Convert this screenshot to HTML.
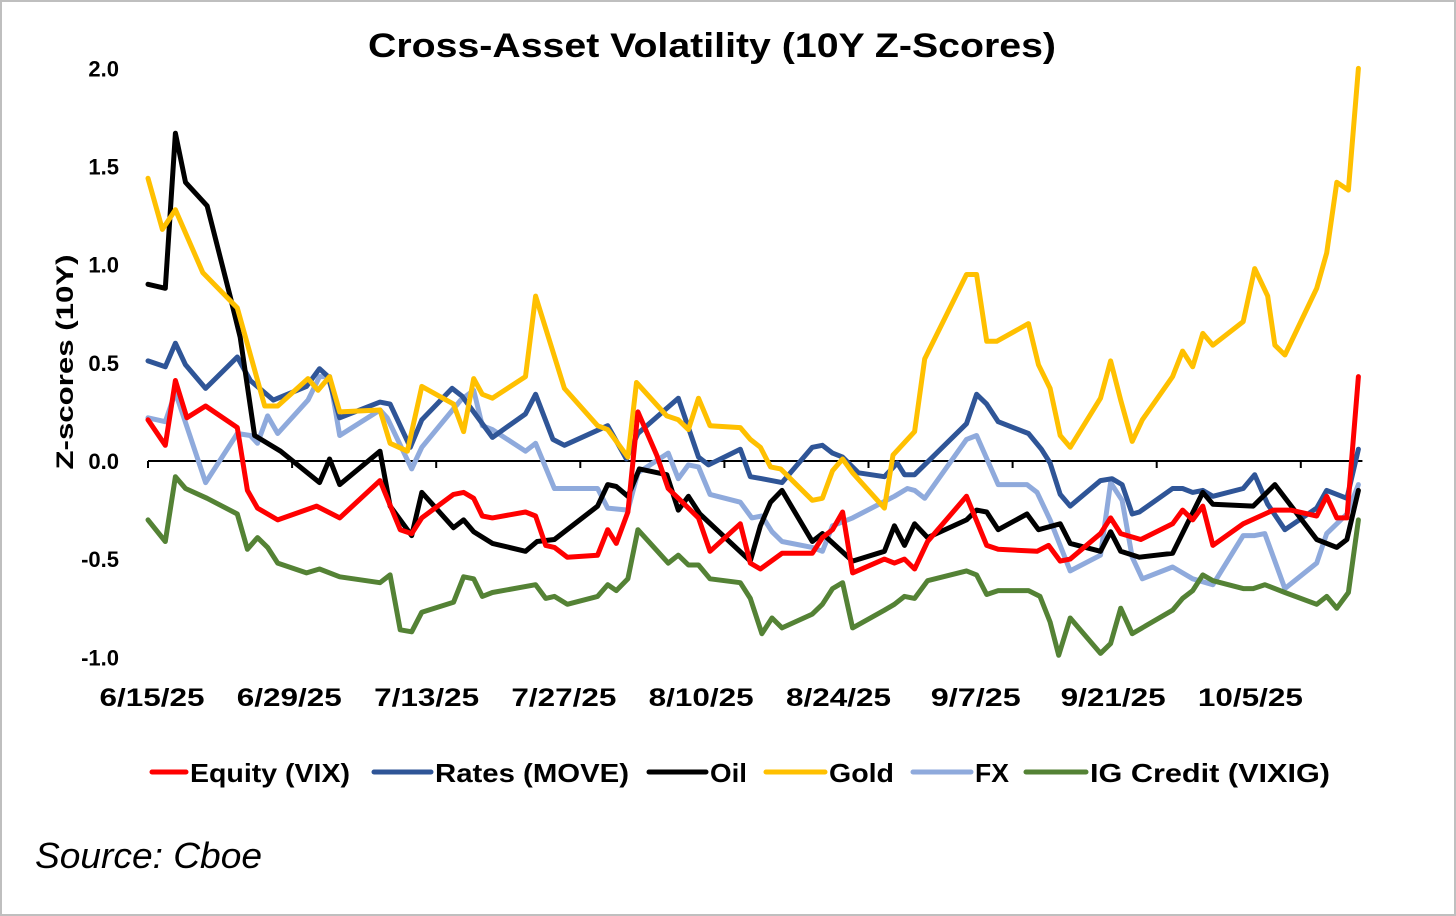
<!DOCTYPE html>
<html><head><meta charset="utf-8"><style>
body{margin:0;background:#fff;}
svg{display:block;font-family:"Liberation Sans",Arial,sans-serif;}
</style></head><body>
<svg id="chart" width="1456" height="916" viewBox="0 0 1456 916">
<rect x="1" y="1" width="1454" height="914" fill="#fff" stroke="#bfbfbf" stroke-width="2"/>
<text x="712" y="57" text-anchor="middle" font-size="34" font-weight="bold" textLength="688" lengthAdjust="spacingAndGlyphs">Cross-Asset Volatility (10Y Z-Scores)</text>
<text transform="translate(73,362) rotate(-90)" text-anchor="middle" font-size="24" font-weight="bold" textLength="215" lengthAdjust="spacingAndGlyphs">Z-scores (10Y)</text>
<g id="yticks"></g><g id="xaxis"></g><g id="series"></g><g id="legend"></g>
<text x="35" y="868" font-size="36" font-style="italic" textLength="227" lengthAdjust="spacingAndGlyphs">Source: Cboe</text>
</svg>
<script>
const yTicks=[2.0,1.5,1.0,0.5,0.0,-0.5,-1.0];
const xTickLabels=["6/15/25","6/29/25","7/13/25","7/27/25","8/10/25","8/24/25","9/7/25","9/21/25","10/5/25"];
const equityX=[0,1.2,1.9,2.7,4,6.2,6.9,7.6,9,11.7,13.3,16.1,17.5,18.3,19,21.2,21.9,22.6,23.2,23.9,26.2,26.9,27.6,28.2,29.1,31.2,31.9,32.5,33.3,34,35.3,36.1,37.5,38.2,39,41.1,41.8,42.5,44,46.1,46.8,47.5,48.2,48.9,51.1,51.8,52.5,53.2,54.1,56.8,58.2,59,61.7,62.5,63.3,64,66.1,66.8,67.5,68.9,71.1,71.8,72.5,73.2,73.9,76,78.1,79.3,81.1,81.8,82.5,83.2,84];
const equityY=[0.21,0.08,0.41,0.22,0.28,0.17,-0.15,-0.24,-0.30,-0.23,-0.29,-0.10,-0.35,-0.37,-0.29,-0.17,-0.16,-0.19,-0.28,-0.29,-0.26,-0.28,-0.43,-0.44,-0.49,-0.48,-0.35,-0.42,-0.26,0.25,0.03,-0.14,-0.24,-0.29,-0.46,-0.32,-0.52,-0.55,-0.47,-0.47,-0.39,-0.35,-0.26,-0.57,-0.50,-0.52,-0.50,-0.55,-0.41,-0.18,-0.43,-0.45,-0.46,-0.43,-0.51,-0.50,-0.37,-0.29,-0.37,-0.40,-0.32,-0.25,-0.30,-0.23,-0.43,-0.32,-0.25,-0.25,-0.28,-0.18,-0.29,-0.29,0.43];
const ratesX=[0,1.2,1.9,2.6,4,6.2,7.1,8.7,11,11.9,12.5,13.3,16.1,16.8,18.2,19,21.1,21.8,23.9,26.2,26.9,28.1,28.9,31.9,33.2,34,36.8,38.2,38.9,41.1,41.8,42.6,44,46.1,46.8,47.5,48.2,49.3,51.1,52,52.5,53.2,56.8,57.5,58.2,59,61.1,62,62.6,63.3,64,66.1,66.9,67.6,68.3,68.8,71.1,71.8,72.5,73.2,73.9,76,76.8,77.7,78.9,81.1,81.8,83.2,84];
const ratesY=[0.51,0.48,0.60,0.49,0.37,0.53,0.41,0.31,0.38,0.47,0.43,0.22,0.30,0.29,0.07,0.21,0.37,0.33,0.12,0.24,0.34,0.11,0.08,0.18,0.01,0.14,0.32,0.02,-0.02,0.06,-0.08,-0.09,-0.11,0.07,0.08,0.04,0.02,-0.06,-0.08,-0.01,-0.07,-0.07,0.19,0.34,0.29,0.20,0.14,0.06,-0.01,-0.17,-0.23,-0.10,-0.09,-0.12,-0.27,-0.26,-0.14,-0.14,-0.16,-0.15,-0.18,-0.14,-0.07,-0.22,-0.35,-0.24,-0.15,-0.19,0.06];
const oilX=[0,1.2,1.9,2.6,4.1,5.7,6.4,7.4,9.2,11.9,12.6,13.3,16.1,16.8,18.3,19,21.2,21.9,22.6,23.9,26.2,27,28.2,31.2,31.9,32.5,33.3,34.1,36,36.8,37.5,38.3,41.8,42.5,43.2,44,46.1,46.8,48.9,51.1,51.8,52.5,53.2,54.1,56.8,57.5,58.2,59,61,61.8,63.3,64,66.1,66.8,67.5,68.8,71.1,73.2,73.9,76.7,78.2,81.1,82.5,83.2,84];
const oilY=[0.90,0.88,1.67,1.42,1.30,0.84,0.63,0.13,0.05,-0.11,0.01,-0.12,0.05,-0.23,-0.38,-0.16,-0.34,-0.30,-0.36,-0.42,-0.46,-0.41,-0.40,-0.23,-0.12,-0.13,-0.18,-0.04,-0.07,-0.25,-0.18,-0.27,-0.51,-0.33,-0.21,-0.15,-0.41,-0.37,-0.51,-0.46,-0.33,-0.43,-0.32,-0.39,-0.30,-0.25,-0.26,-0.35,-0.27,-0.35,-0.32,-0.42,-0.46,-0.36,-0.46,-0.49,-0.47,-0.16,-0.22,-0.23,-0.12,-0.40,-0.44,-0.40,-0.15];
const goldX=[0,1,1.9,3.8,6.2,8.1,9,11.1,11.8,12.6,13.3,16.1,16.8,18,19,21.2,21.9,22.6,23.2,23.9,26.2,26.9,28.9,31.2,31.9,33.3,33.9,36,36.8,37.5,38.2,39,41.1,41.8,42.5,43.2,43.9,46.1,46.8,47.5,48.2,48.9,51.1,51.7,53.2,53.9,56.8,57.5,58.2,58.9,61.1,61.8,62.6,63.3,64,66.1,66.8,67.5,68.3,69,71.1,71.8,72.5,73.2,73.9,76,76.8,77.7,78.2,78.9,81.1,81.8,82.5,83.3,84];
const goldY=[1.44,1.18,1.28,0.96,0.78,0.28,0.28,0.42,0.36,0.43,0.25,0.26,0.09,0.05,0.38,0.29,0.15,0.42,0.34,0.32,0.43,0.84,0.37,0.18,0.16,0.02,0.40,0.23,0.21,0.16,0.32,0.18,0.17,0.11,0.07,-0.03,-0.04,-0.20,-0.19,-0.05,0.01,-0.06,-0.24,0.03,0.15,0.52,0.95,0.95,0.61,0.61,0.70,0.49,0.37,0.13,0.07,0.32,0.51,0.31,0.10,0.21,0.43,0.56,0.48,0.65,0.59,0.71,0.98,0.84,0.59,0.54,0.88,1.06,1.42,1.38,2.00];
const fxX=[0,1.2,1.9,4,6.2,7.1,7.6,8.3,9,11.1,11.9,12.6,13.3,16.1,16.6,18.3,19,21.7,22.6,23.2,23.9,26.2,26.9,28.2,31.2,31.9,33.3,34,36.1,36.8,37.5,38.2,39,41.1,41.9,42.6,43.3,44,46.1,46.8,47.5,48.9,51.8,52.7,53.2,53.9,56.8,57.5,59,61,61.7,62.6,64,66.1,66.8,67.6,68.3,69,71.1,71.8,72.5,73.9,76,76.8,77.5,78.9,81.1,81.8,83.2,84];
const fxY=[0.22,0.20,0.35,-0.11,0.14,0.13,0.09,0.23,0.14,0.31,0.43,0.43,0.13,0.26,0.22,-0.04,0.07,0.31,0.36,0.18,0.16,0.05,0.09,-0.14,-0.14,-0.24,-0.25,-0.06,0.04,-0.09,-0.02,-0.03,-0.17,-0.21,-0.29,-0.28,-0.36,-0.41,-0.44,-0.46,-0.33,-0.29,-0.18,-0.14,-0.15,-0.19,0.11,0.13,-0.12,-0.12,-0.16,-0.30,-0.56,-0.48,-0.11,-0.20,-0.49,-0.60,-0.54,-0.57,-0.60,-0.63,-0.38,-0.38,-0.37,-0.65,-0.52,-0.37,-0.27,-0.12];
const creditX=[0,1.2,1.9,2.6,4.1,6.2,6.9,7.6,8.3,9,11,11.9,13.3,16.1,16.8,17.5,18.3,19,21.2,21.9,22.6,23.2,23.9,26.9,27.6,28.2,29.1,31.2,31.9,32.5,33.3,34,36.1,36.8,37.5,38.2,39,41.1,41.8,42.6,43.3,44,46.1,46.8,47.5,48.2,48.9,51.1,51.8,52.5,53.2,54.1,56.8,57.5,58.2,59,61.1,61.9,62.6,63.2,64,66.1,66.8,67.5,68.3,71.1,71.8,72.5,73.2,73.9,76,76.7,77.5,78.9,81.1,81.8,82.5,83.3,84];
const creditY=[-0.30,-0.41,-0.08,-0.14,-0.19,-0.27,-0.45,-0.39,-0.44,-0.52,-0.57,-0.55,-0.59,-0.62,-0.58,-0.86,-0.87,-0.77,-0.72,-0.59,-0.60,-0.69,-0.67,-0.63,-0.70,-0.69,-0.73,-0.69,-0.63,-0.66,-0.60,-0.35,-0.52,-0.48,-0.53,-0.53,-0.60,-0.62,-0.70,-0.88,-0.80,-0.85,-0.78,-0.73,-0.65,-0.62,-0.85,-0.76,-0.73,-0.69,-0.70,-0.61,-0.56,-0.58,-0.68,-0.66,-0.66,-0.69,-0.82,-0.99,-0.80,-0.98,-0.93,-0.75,-0.88,-0.76,-0.70,-0.66,-0.58,-0.61,-0.65,-0.65,-0.63,-0.67,-0.73,-0.69,-0.75,-0.67,-0.30];
const seriesNames=["Equity (VIX)","Rates (MOVE)","Oil","Gold","FX","IG Credit (VIXIG)"];

const NS="http://www.w3.org/2000/svg";
function xS(i){return 148+i*14.41;}
function yS(v){return 461-v*196.3;}
function mk(tag,attrs,parent){const e=document.createElementNS(NS,tag);for(const k in attrs)e.setAttribute(k,attrs[k]);parent.appendChild(e);return e;}

const yt=document.getElementById('yticks');
yTicks.forEach(v=>{const t=mk('text',{x:119,y:yS(v)+8,'text-anchor':'end','font-size':22,'font-weight':'bold'},yt);


t.textContent=v.toFixed(1);});

const xa=document.getElementById('xaxis');
const axisLine=mk('line',{x1:xS(0),x2:xS(84)+4,y1:yS(0),y2:yS(0),stroke:'#000','stroke-width':2},xa);


for(let k=0;k<=8;k++){const tk=mk('line',{x1:xS(k*10),x2:xS(k*10),y1:yS(0),y2:yS(0)+7,stroke:'#000','stroke-width':2},xa);

}
xTickLabels.forEach((s,k)=>{const t=mk('text',{x:152+k*137.3,y:706,'text-anchor':'middle','font-size':25,'font-weight':'bold',textLength:s.length*15,lengthAdjust:'spacingAndGlyphs'},xa);


t.textContent=s;});

const sg=document.getElementById('series');
const allX=[equityX,ratesX,oilX,goldX,fxX,creditX];
const allY=[equityY,ratesY,oilY,goldY,fxY,creditY];
const colors=["#ff0000","#2f5597","#000000","#ffc000","#8faadc","#548235"];
const keys=["equity","rates","oil","gold","fx","ig-credit"];
[4,5,1,2,3,0].forEach(s=>{
  const xs=allX[s],ys=allY[s],n=Math.min(xs.length,ys.length);
  let d='';for(let i=0;i<n;i++)d+=(i?'L':'M')+xS(xs[i]).toFixed(1)+' '+yS(ys[i]).toFixed(1);
  const p=mk('path',{d:d,fill:'none',stroke:colors[s],'stroke-width':5,'stroke-linejoin':'round','stroke-linecap':'round'},sg);
  
  
});

const lg=document.getElementById('legend');
const lineX=[152,374,649,766,913,1026];
const textX=[190,435,710,829,975,1090];
const textW=[160,194,37,65,34,240];
seriesNames.forEach((nm,s)=>{
  const g=mk('g',{},lg);
  
  
  mk('line',{x1:lineX[s],x2:textX[s]-4,y1:772,y2:772,stroke:colors[s],'stroke-width':5,'stroke-linecap':'round'},g);
  const t=mk('text',{x:textX[s],y:782,'font-size':26,'font-weight':'bold',textLength:textW[s],lengthAdjust:'spacingAndGlyphs'},g);
  t.textContent=nm;
});
</script>
</body></html>
